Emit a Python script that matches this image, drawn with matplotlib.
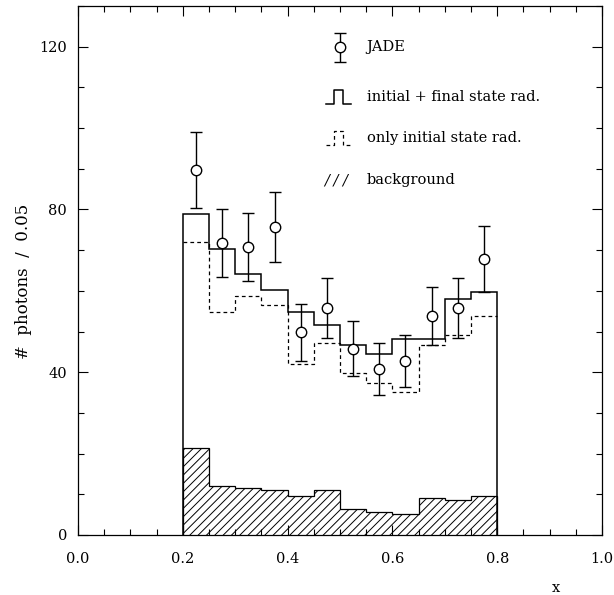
import numpy as np
import matplotlib
matplotlib.use("Agg")
from matplotlib import pyplot as plt
from matplotlib.ticker import MultipleLocator

# bin edges in x (width 0.05)
edges = np.arange(0.20, 0.8001, 0.05)
centers = 0.5 * (edges[:-1] + edges[1:])

# initial + final state radiation (solid)
full_rad = [79.0, 70.2, 64.2, 60.2, 54.9, 51.7, 46.6, 44.6, 48.2, 48.2, 58.0, 59.7]
# only initial state radiation (dashed)
init_rad = [71.9, 54.7, 58.8, 56.4, 42.1, 47.3, 39.8, 37.4, 35.1, 46.6, 49.2, 53.9]
# background (hatched)
background = [21.3, 12.1, 11.5, 11.0, 9.7, 11.0, 6.3, 5.7, 5.2, 9.1, 8.7, 9.7]

# JADE data points
jade_y = [89.8, 71.7, 70.7, 75.7, 49.8, 55.9, 45.8, 40.8, 42.8, 53.7, 55.8, 67.9]
jade_hi = [99.1, 80.2, 79.1, 84.4, 56.8, 63.2, 52.5, 47.2, 49.2, 61.0, 63.1, 76.0]
jade_lo = [80.3, 63.4, 62.3, 67.0, 42.8, 48.3, 39.1, 34.4, 36.4, 46.6, 48.3, 59.6]

plt.rcParams['font.family'] = ['DejaVu Serif']
plt.rcParams['hatch.linewidth'] = 0.7

fig = plt.figure(figsize=(6.14, 5.95), dpi=100)
ax = fig.add_axes([78/614, 1 - 535/595, 524/614, 529/595])

ax.stairs(background, edges, baseline=0, fill=True, facecolor='white',
          edgecolor='k', hatch='////', lw=0.9)
ax.stairs(init_rad, edges, baseline=None, color='k', ls=(0, (3, 2.5)), lw=0.9)
ax.stairs(full_rad, edges, baseline=0, color='k', lw=1.1)

jy = np.array(jade_y)
yerr = [jy - np.array(jade_lo), np.array(jade_hi) - jy]
ax.errorbar(centers, jy, yerr=yerr, fmt='o', mfc='white', mec='k', ms=7.5,
            ecolor='k', elinewidth=1.0, capsize=4, capthick=1.0, color='k')

ax.set_xlim(0, 1.0)
ax.set_ylim(0, 130)
ax.xaxis.set_major_locator(MultipleLocator(0.2))
ax.xaxis.set_minor_locator(MultipleLocator(0.05))
ax.yaxis.set_major_locator(MultipleLocator(40))
ax.yaxis.set_minor_locator(MultipleLocator(10))
ax.xaxis.set_major_formatter(matplotlib.ticker.FormatStrFormatter('%.1f'))
ax.tick_params(which='both', direction='in', top=True, right=True,
               labelsize=10.5, width=0.8)
ax.tick_params(which='major', length=7)
ax.tick_params(axis='x', which='major', pad=12)
ax.tick_params(axis='y', which='major', pad=8)
ax.tick_params(which='minor', length=4)
for s in ax.spines.values():
    s.set_linewidth(0.9)

ax.set_ylabel('#  photons  /  0.05', fontsize=12)
ax.yaxis.set_label_coords(-0.088, 0.48)
fig.text(556/614, 1 - 588/595, 'x', fontsize=10.5, ha='center', va='center')

# legend drawn by hand
tr = ax.transAxes
fs = 10.5
tx = 0.551
# JADE
ax.errorbar([0.5], [0.922], yerr=[[0.027], [0.027]], fmt='o', mfc='white',
            mec='k', ms=7.5, ecolor='k', elinewidth=1.0, capsize=4,
            capthick=1.0, transform=tr, clip_on=False)
ax.text(tx, 0.922, 'JADE', transform=tr, fontsize=fs, va='center')
# solid pulse
y0, h = 0.815, 0.026
px = [0.473, 0.488, 0.488, 0.506, 0.506, 0.521]
py = [y0, y0, y0 + h, y0 + h, y0, y0]
ax.plot(px, py, color='k', lw=1.1, transform=tr)
ax.text(tx, 0.828, 'initial + final state rad.', transform=tr, fontsize=fs,
        va='center')
# dashed pulse
y1 = 0.737
ax.plot(px, [v - y0 + y1 for v in py], color='k', lw=0.9,
        ls=(0, (3, 2.5)), transform=tr)
ax.text(tx, 0.750, 'only initial state rad.', transform=tr, fontsize=fs,
        va='center')
# background
ax.text(0.470, 0.671, '/ / /', transform=tr, fontsize=fs, va='center',
        style='italic')
ax.text(tx, 0.671, 'background', transform=tr, fontsize=fs, va='center')

fig.savefig('out.png', dpi=100)
